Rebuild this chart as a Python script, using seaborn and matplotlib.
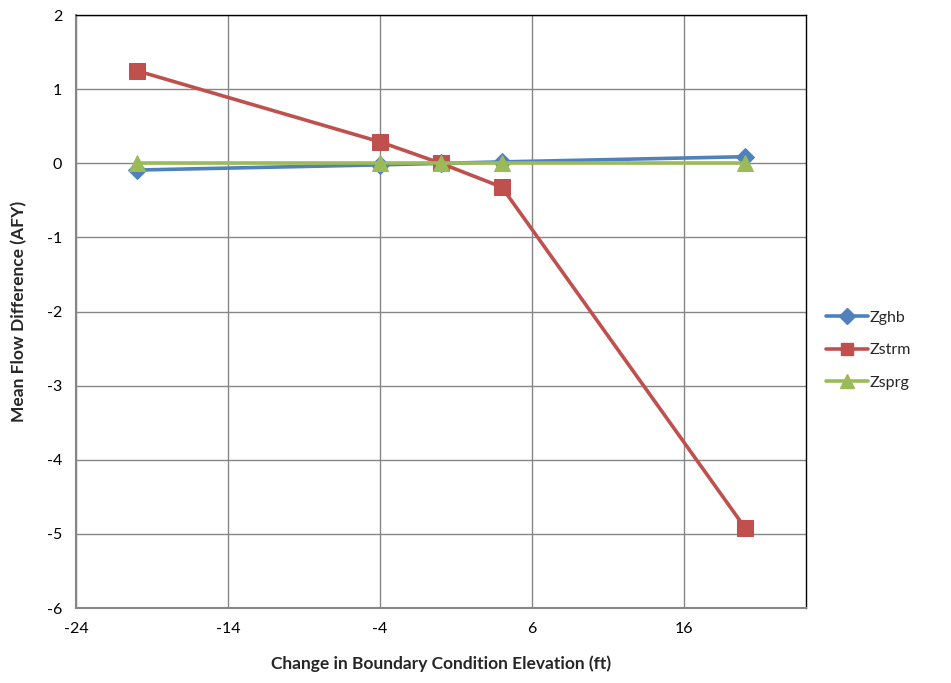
import matplotlib
matplotlib.use("Agg")
import matplotlib.pyplot as plt
import seaborn as sns
import pandas as pd
from matplotlib.lines import Line2D

# Boundary condition elevation changes (ft)
elevation_change = [-20, -4, 0, 4, 20]

# Mean flow differences (AFY) per zone budget term
zghb = [-0.09, -0.02, 0.0, 0.02, 0.09]
zstrm = [1.25, 0.29, 0.0, -0.32, -4.92]
zsprg = [0.0, 0.0, 0.0, 0.0, 0.0]

series_names = ["Zghb", "Zstrm", "Zsprg"]
colors = {"Zghb": "#4F81BD", "Zstrm": "#C0504D", "Zsprg": "#9BBB59"}
markers = {"Zghb": "D", "Zstrm": "s", "Zsprg": "^"}
msizes = {"Zghb": 9, "Zstrm": 11, "Zsprg": 12}

x_ticks = [-24, -14, -4, 6, 16]
y_ticks = [-6, -5, -4, -3, -2, -1, 0, 1, 2]

df = pd.DataFrame({
    "x": elevation_change * 3,
    "y": zghb + zstrm + zsprg,
    "series": [n for n in series_names for _ in elevation_change],
})

sns.set_style("white")
plt.rcParams["font.family"] = ["Lato", "DejaVu Sans"]

fig = plt.figure(figsize=(9.51, 6.83), dpi=100)
ax = fig.add_axes([0.0799, 0.1098, 0.7676, 0.868])

for i, name in enumerate(series_names):
    sub = df[df["series"] == name]
    sns.lineplot(data=sub, x="x", y="y", ax=ax, color=colors[name],
                 marker=markers[name], markersize=msizes[name],
                 markeredgecolor=colors[name], linewidth=2.6,
                 zorder=3 + i, legend=False)

ax.set_xlim(-24, 24)
ax.set_ylim(-6, 2)
ax.set_xticks(x_ticks)
ax.set_yticks(y_ticks)
ax.grid(True, color="#868686", linewidth=1.0)
ax.set_axisbelow(True)
ax.tick_params(length=0, labelsize=11.5, colors="black", pad=10)
ax.set_xticklabels([str(t) for t in x_ticks])
ax.set_yticklabels([str(t) for t in y_ticks])

for side in ["top", "right"]:
    ax.spines[side].set_color("black")
    ax.spines[side].set_linewidth(1.0)
for side in ["left", "bottom"]:
    ax.spines[side].set_color("#868686")
    ax.spines[side].set_linewidth(1.5)

ax.set_xlabel("Change in Boundary Condition Elevation (ft)", fontsize=12.5,
              fontweight="bold", labelpad=14)
ax.set_ylabel("Mean Flow Difference (AFY)", fontsize=12.5,
              fontweight="bold", labelpad=14)

handles = [Line2D([0], [0], color=colors[n], marker=markers[n],
                  markersize=msizes[n] * 0.85, linewidth=2.6,
                  markeredgecolor=colors[n]) for n in series_names]
fig.legend(handles, series_names, loc="center left",
           bbox_to_anchor=(0.862, 0.487), frameon=False, fontsize=11.5,
           handlelength=2.6, handletextpad=0.1, labelspacing=1.15,
           borderaxespad=0)

fig.savefig("out.png", dpi=100)
